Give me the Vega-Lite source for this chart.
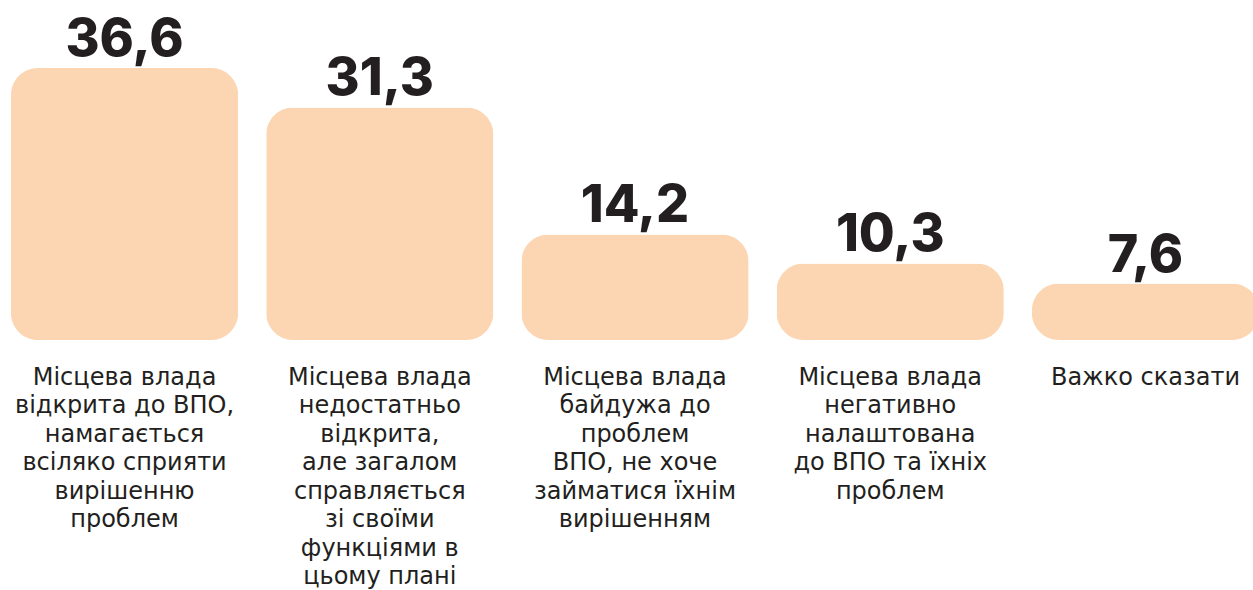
{
  "$schema": "https://vega.github.io/schema/vega-lite/v6.json",
  "width": 1253,
  "height": 340,
  "autosize": {"type": "none"},
  "padding": {"left": 0, "top": 0, "right": 0, "bottom": 250},
  "background": "white",
  "config": {"view": {"stroke": null}},
  "data": {
    "values": [
      {"cat": "Місцева влада|відкрита до ВПО,|намагається|всіляко сприяти|вирішенню|проблем", "value": 36.6, "label": "36,6"},
      {"cat": "Місцева влада|недостатньо|відкрита,|але загалом|справляється|зі своїми|функціями в|цьому плані", "value": 31.3, "label": "31,3"},
      {"cat": "Місцева влада|байдужа до|проблем|ВПО, не хоче|займатися їхнім|вирішенням", "value": 14.2, "label": "14,2"},
      {"cat": "Місцева влада|негативно|налаштована|до ВПО та їхніх|проблем", "value": 10.3, "label": "10,3"},
      {"cat": "Важко сказати", "value": 7.6, "label": "7,6"}
    ]
  },
  "encoding": {
    "x": {
      "field": "cat",
      "type": "nominal",
      "sort": null,
      "scale": {"range": [0, 1270], "paddingInner": 0.11, "paddingOuter": 0.043},
      "axis": {
        "title": null,
        "domain": false,
        "ticks": false,
        "labelAngle": 0,
        "labelPadding": 25,
        "labelExpr": "split(datum.label, '|')",
        "labelFont": "DejaVu Sans",
        "labelFontSize": 24,
        "labelLineHeight": 28.5,
        "labelColor": "#231F20",
        "labelLimit": 0,
        "labelOverlap": false,
        "labelBound": false,
        "labelBaseline": "top"
      }
    },
    "y": {
      "field": "value",
      "type": "quantitative",
      "scale": {"domain": [0, 45.76], "nice": false, "zero": true},
      "axis": null
    }
  },
  "layer": [
    {
      "mark": {"type": "bar", "color": "#FCD6B3", "cornerRadius": 27}
    },
    {
      "mark": {"type": "text", "baseline": "alphabetic", "dy": -12, "font": "Inter", "fontWeight": 800, "fontSize": 52, "color": "#231F20"},
      "encoding": {"text": {"field": "label"}}
    }
  ]
}
